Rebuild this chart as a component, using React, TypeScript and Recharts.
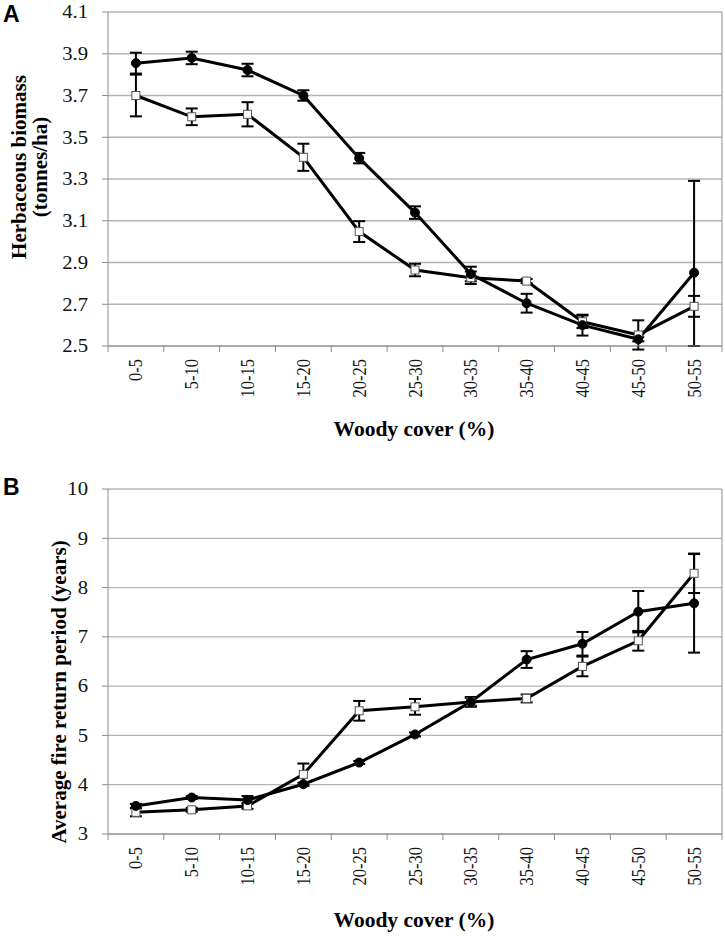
import React from "react";
import { LineChart, Line, XAxis, YAxis, CartesianGrid, ErrorBar } from "recharts";

const categories = ["0-5", "5-10", "10-15", "15-20", "20-25", "25-30", "30-35", "35-40", "40-45", "45-50", "50-55"];

// panel A: herbaceous biomass (tonnes/ha)
const biomassFilled = [3.855, 3.88, 3.822, 3.70, 3.40, 3.139, 2.845, 2.705, 2.60, 2.532, 2.851];
const biomassFilledErr: (number | number[])[] = [0.05, 0.03, 0.03, 0.025, 0.025, 0.03, 0.035, 0.045, 0.05, 0.01, [0.351, 0.44]];
const biomassOpen = [3.70, 3.598, 3.61, 3.404, 3.048, 2.864, 2.827, 2.811, 2.616, 2.553, 2.69];
const biomassOpenErr = [0.10, 0.04, 0.058, 0.065, 0.05, 0.03, 0.03, 0.01, 0.03, 0.07, 0.05];
const biomassTicks = [2.5, 2.7, 2.9, 3.1, 3.3, 3.5, 3.7, 3.9, 4.1];

// panel B: average fire return period (years)
const fireFilled = [3.57, 3.74, 3.69, 4.01, 4.45, 5.02, 5.68, 6.54, 6.86, 7.51, 7.68];
const fireFilledErr = [0.04, 0.03, 0.08, 0.03, 0.03, 0.04, 0.1, 0.17, 0.24, 0.42, 1.0];
const fireOpen = [3.44, 3.49, 3.57, 4.21, 5.5, 5.58, 5.68, 5.75, 6.4, 6.92, 8.29];
const fireOpenErr = [0.08, 0.04, 0.06, 0.22, 0.2, 0.16, 0.08, 0.08, 0.2, 0.2, 0.4];
const fireTicks = [3, 4, 5, 6, 7, 8, 9, 10];

const biomassData = categories.map((c, i) => ({
  cat: c,
  filled: biomassFilled[i],
  filledErr: biomassFilledErr[i],
  open: biomassOpen[i],
  openErr: biomassOpenErr[i],
}));

const fireData = categories.map((c, i) => ({
  cat: c,
  filled: fireFilled[i],
  filledErr: fireFilledErr[i],
  open: fireOpen[i],
  openErr: fireOpenErr[i],
}));

const SERIF = '"Liberation Serif", "Times New Roman", serif';
const GRID = "#b4b4b4";
const AXIS = "#8c8c8c";
const PLOT_W = 614;
const HALF = PLOT_W / categories.length / 2;

// the source figure is a bit wider than tall, so labels get a slight stretch
const XTick = (props: any) => {
  const { x, y, payload, index } = props;
  return (
    <g>
      <line x1={x - HALF} x2={x - HALF} y1={y} y2={y + 6} stroke={AXIS} />
      {index === categories.length - 1 && <line x1={x + HALF} x2={x + HALF} y1={y} y2={y + 6} stroke={AXIS} />}
      <text
        transform={`translate(${x + 6.5},${y + 13}) rotate(-90) scale(1,1.2)`}
        textAnchor="end"
        fontSize={16.5}
        fontFamily={SERIF}
        fill="#111"
      >
        {payload.value}
      </text>
    </g>
  );
};

const makeYTick = (fmt: (v: number) => string) => (props: any) => {
  const { x, y, payload } = props;
  return (
    <g>
      <line x1={x - 6} x2={x} y1={y} y2={y} stroke={AXIS} />
      <text
        transform={`translate(${x - 20},${y}) scale(1.15,1)`}
        dy="0.35em"
        textAnchor="end"
        fontSize={18}
        fontFamily={SERIF}
        fill="#111"
      >
        {fmt(payload.value)}
      </text>
    </g>
  );
};

const FilledDot = (props: any) => {
  const { cx, cy, index } = props;
  return <circle key={`f${index}`} cx={cx} cy={cy} r={4.5} fill="#000" stroke="#000" />;
};

const OpenDot = (props: any) => {
  const { cx, cy, index } = props;
  return <rect key={`o${index}`} x={cx - 4} y={cy - 4} width={8} height={8} fill="#fff" stroke="#555" strokeWidth={1} />;
};

function Panel({ data, ticks, domain, fmt, height, top, axisH }: any) {
  return (
    <LineChart width={725} height={height} data={data} margin={{ top, right: 2, bottom: 0, left: 0 }}>
      <CartesianGrid vertical={false} stroke={GRID} strokeWidth={1.3} />
      <XAxis
        dataKey="cat"
        height={axisH}
        interval={0}
        padding={{ left: HALF, right: HALF }}
        tickLine={false}
        tickSize={0}
        tickMargin={0}
        axisLine={{ stroke: AXIS }}
        tick={<XTick />}
      />
      <YAxis
        width={108}
        domain={domain}
        ticks={ticks}
        allowDataOverflow
        tickLine={false}
        tickSize={0}
        tickMargin={0}
        axisLine={{ stroke: AXIS }}
        tick={makeYTick(fmt)}
      />
      <YAxis yAxisId="r" orientation="right" width={1} tick={false} tickLine={false} axisLine={{ stroke: AXIS }} />
      <Line dataKey="open" stroke="#000" strokeWidth={3} dot={OpenDot} isAnimationActive={false}>
        <ErrorBar dataKey="openErr" width={6} stroke="#000" strokeWidth={2} direction="y" />
      </Line>
      <Line dataKey="filled" stroke="#000" strokeWidth={3} dot={FilledDot} isAnimationActive={false}>
        <ErrorBar dataKey="filledErr" width={6} stroke="#000" strokeWidth={2} direction="y" />
      </Line>
    </LineChart>
  );
}

export default function App() {
  return (
    <div style={{ position: "absolute", left: 0, top: 0, width: 725, height: 936, background: "#fff" }}>
      <div style={{ position: "absolute", left: 0, top: 0 }}>
        <Panel data={biomassData} ticks={biomassTicks} domain={[2.5, 4.1]} fmt={(v: number) => v.toFixed(1)} height={430} top={12} axisH={84} />
      </div>
      <div style={{ position: "absolute", left: 0, top: 440 }}>
        <Panel data={fireData} ticks={fireTicks} domain={[3, 10]} fmt={(v: number) => String(v)} height={496} top={49} axisH={102} />
      </div>
      <svg width={725} height={936} style={{ position: "absolute", left: 0, top: 0, pointerEvents: "none" }}>
        <text x={3} y={22} fontSize={23} fontWeight="bold" fontFamily='"Liberation Sans", Arial, sans-serif'>A</text>
        <text x={3} y={495} fontSize={23} fontWeight="bold" fontFamily='"Liberation Sans", Arial, sans-serif'>B</text>
        <text transform="translate(26,167) rotate(-90)" textAnchor="middle" fontSize={21} fontWeight="bold" fontFamily={SERIF}>Herbaceous biomass</text>
        <text transform="translate(47,167) rotate(-90)" textAnchor="middle" fontSize={21} fontWeight="bold" fontFamily={SERIF}>(tonnes/ha)</text>
        <text x={414} y={436} textAnchor="middle" fontSize={21.5} fontWeight="bold" fontFamily={SERIF}>Woody cover (%)</text>
        <text transform="translate(66,692) rotate(-90)" textAnchor="middle" fontSize={21} fontWeight="bold" fontFamily={SERIF}>Average fire return period (years)</text>
        <text x={414} y={927} textAnchor="middle" fontSize={21.5} fontWeight="bold" fontFamily={SERIF}>Woody cover (%)</text>
      </svg>
    </div>
  );
}
